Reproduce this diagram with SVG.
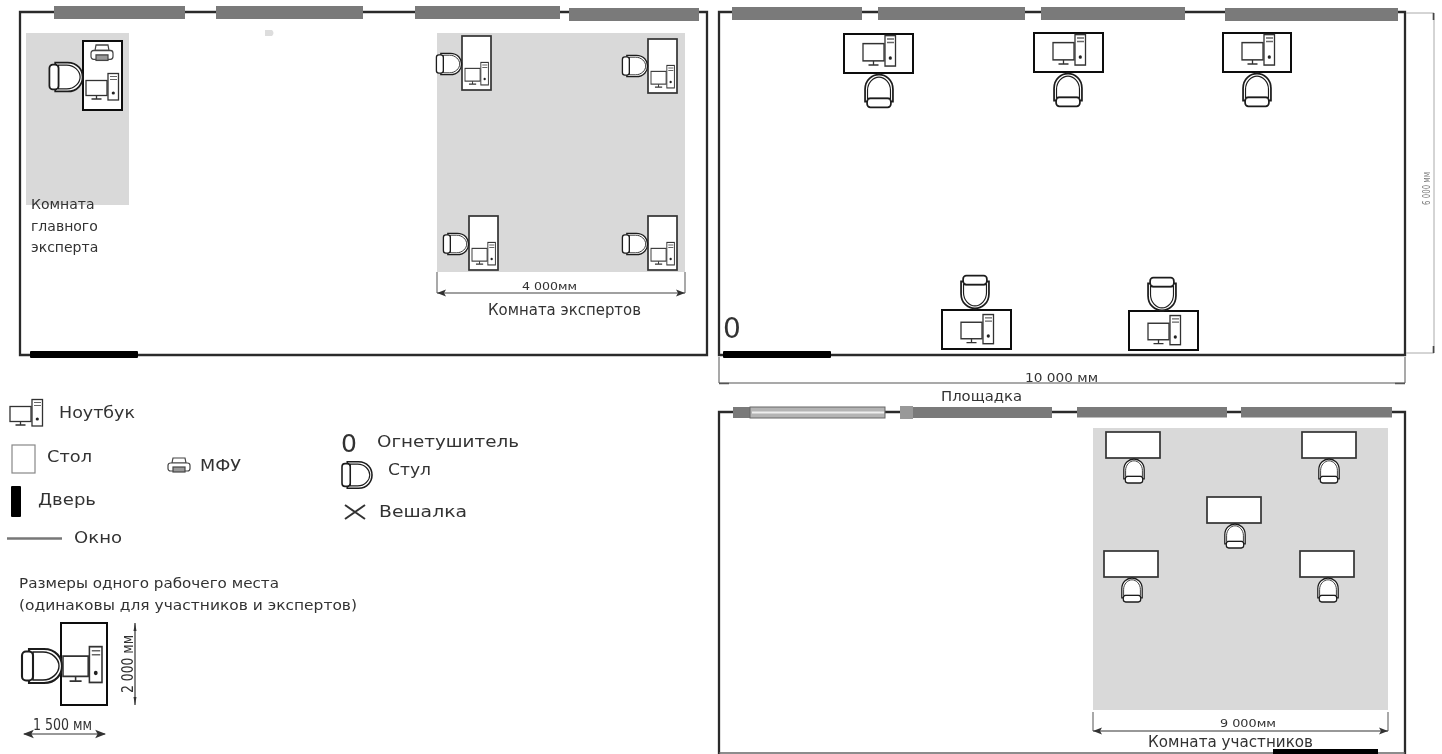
<svg xmlns="http://www.w3.org/2000/svg" xmlns:xlink="http://www.w3.org/1999/xlink" width="1442" height="754" viewBox="0 0 1442 754">
<style>
text{font-family:"DejaVu Sans","Liberation Sans",sans-serif;fill:#333}
.wall{fill:none;stroke:#2c2c2c;stroke-width:2.300}
.win{fill:#7a7a7a}
.door{fill:#050505}
.grey{fill:#d9d9d9}
.tb{fill:#fff;stroke:#111;stroke-width:2}
.tg{fill:#fff;stroke:#333;stroke-width:1.700}
.dim{fill:none;stroke:#555;stroke-width:1}
.head{fill:#333}
.lg{font-size:15}
.cond{font-family:"DejaVu Sans Condensed","Liberation Sans",sans-serif}
</style>
<defs>
<filter id="soft" x="0" y="0" width="1442" height="754" filterUnits="userSpaceOnUse"><feGaussianBlur stdDeviation="0.55"/></filter>
<g id="pc" fill="none">
<rect x="0" y="7.500" width="21" height="15" fill="#fff" stroke="#333" stroke-width="1.300"/>
<path d="M10.500 22.500V25.500M5.500 26H15.500" stroke="#333" stroke-width="1.300"/>
<rect x="22" y="0.500" width="10.500" height="26.500" fill="#fff" stroke="#333" stroke-width="1.300"/>
<path d="M24 3.500H31M24 6.500H31" stroke="#666" stroke-width="1.200"/>
<circle cx="27.300" cy="20" r="1.600" fill="#222"/>
</g>
<g id="chair" fill="#fff" stroke="#1c1c1c" stroke-width="2.100">
<path d="M-13 -17H2C14 -17 20 -8 20 0C20 8 14 17 2 17H-13Z"/>
<path d="M-9 -14H1C10 -14 17 -7 17 0C17 7 10 14 1 14H-9Z" stroke-width="1.400"/>
<rect x="-20" y="-14.500" width="11" height="29" rx="4"/>
</g>
<g id="printer" fill="#fff" stroke="#444" stroke-width="1.200">
<path d="M5 0H17L18 5H4Z"/>
<rect x="0" y="5" width="22" height="8" rx="2.500"/>
<rect x="5" y="9" width="12" height="5" fill="#999"/>
</g>
<path id="ah" class="head" d="M0 0L9 -3.500L7 0L9 3.500Z"/>
</defs>
<rect width="1442" height="754" fill="#fff"/>
<g filter="url(#soft)">

<g id="connectors">
<path class="wall" d="M20 355V12H707V355Z"/>
<path class="wall" d="M719 355V12H1405V355Z"/>
<path class="wall" d="M719 754V412H1405V754"/>
<path d="M719 753H1405" stroke="#666" stroke-width="1.400" fill="none"/>
<g id="dim-experts">
<path class="dim" d="M437 272V293M685 272V293"/>
<path d="M437 293H685" stroke="#444" stroke-width="1.200"/>
<use xlink:href="#ah" transform="translate(437 293)"/><use xlink:href="#ah" transform="translate(685 293) rotate(180)"/>
</g>
<g id="dim-10000">
<path class="dim" d="M719 357V383H1405V357"/>
<path d="M1395 383.500H1405M719 383.500H729" stroke="#555" stroke-width="1.500"/>
</g>
<g id="dim-6000">
<path d="M1406 13H1434V353H1406" fill="none" stroke="#aaa" stroke-width="1"/>
<path d="M1433.500 13V20M1433.500 346V353" stroke="#444" stroke-width="1.600"/>
</g>
<g id="dim-9000">
<path class="dim" d="M1093 712V731M1388 712V731"/>
<path d="M1093 731H1388" stroke="#333" stroke-width="1.200"/>
<use xlink:href="#ah" transform="translate(1093 731)"/><use xlink:href="#ah" transform="translate(1388 731) rotate(180)"/>
</g>
<g id="dim-2000">
<path d="M135 623V705" stroke="#333" stroke-width="1.200"/>
<path d="M135 623L133.500 631H136.500ZM135 705L133.500 697H136.500Z" class="head"/>
</g>
<g id="dim-1500">
<path d="M24 734H105" stroke="#333" stroke-width="1"/>
<use xlink:href="#ah" transform="translate(23 734) scale(1.200)"/><use xlink:href="#ah" transform="translate(106 734) rotate(180) scale(1.200)"/>
</g>
</g>

<g id="windows">
<rect class="win" x="54" y="6" width="131" height="13"/>
<rect class="win" x="216" y="6" width="147" height="13"/>
<rect class="win" x="415" y="6" width="145" height="13"/>
<rect class="win" x="569" y="8" width="130" height="13"/>
<rect class="win" x="732" y="7" width="130" height="13"/>
<rect class="win" x="878" y="7" width="147" height="13"/>
<rect class="win" x="1041" y="7" width="144" height="13"/>
<rect class="win" x="1225" y="8" width="173" height="13"/>
<rect class="win" x="733" y="407" width="18" height="11"/>
<rect x="750" y="407" width="135" height="11" fill="#b4b4b4" stroke="#666" stroke-width="1"/>
<path d="M752 412.500H884" stroke="#eee" stroke-width="2"/>
<rect class="win" x="900" y="407" width="152" height="11"/>
<rect x="900" y="406" width="13" height="13" fill="#999"/>
<rect class="win" x="1077" y="407" width="150" height="10.500"/>
<rect class="win" x="1241" y="407" width="151" height="10.500"/>
</g>
<g id="doors">
<rect class="door" x="30" y="351" width="108" height="7" rx="1"/>
<rect class="door" x="723" y="351" width="108" height="7" rx="1"/>
<rect class="door" x="1273" y="749" width="105" height="5"/>
</g>
<g id="room-chief">
<rect class="grey" x="26" y="33" width="103" height="172"/>
<rect class="tb" x="83" y="41" width="39" height="69"/>
<use xlink:href="#chair" transform="translate(66 77) scale(.83 .85)"/>
<use xlink:href="#printer" transform="translate(91 45) scale(1 1.100)"/>
<use xlink:href="#pc" transform="translate(86 73)"/>
<text x="31" y="209" font-size="14">Комната</text>
<text x="31" y="231" font-size="14">главного</text>
<text x="31" y="252" font-size="14">эксперта</text>
</g>
<g id="room-experts">
<rect class="grey" x="437" y="33" width="248" height="239"/>
<g id="expert-1"><rect class="tg" x="462" y="36" width="29" height="54"/><use xlink:href="#chair" transform="translate(449 64) scale(.63)"/><use xlink:href="#pc" transform="translate(465 62) scale(.72 .85)"/></g>
<g id="expert-2"><rect class="tg" x="648" y="39" width="29" height="54"/><use xlink:href="#chair" transform="translate(635 66) scale(.63)"/><use xlink:href="#pc" transform="translate(651 65) scale(.72 .85)"/></g>
<g id="expert-3"><rect class="tg" x="469" y="216" width="29" height="54"/><use xlink:href="#chair" transform="translate(456 244) scale(.63)"/><use xlink:href="#pc" transform="translate(472 242) scale(.72 .85)"/></g>
<g id="expert-4"><rect class="tg" x="648" y="216" width="29" height="54"/><use xlink:href="#chair" transform="translate(635 244) scale(.63)"/><use xlink:href="#pc" transform="translate(651 242) scale(.72 .85)"/></g>
<text x="522" y="290" font-size="10.500" textLength="55" lengthAdjust="spacingAndGlyphs">4 000мм</text>
<text x="488" y="315" font-size="15" textLength="153" lengthAdjust="spacingAndGlyphs">Комната экспертов</text>
</g>
<g id="mark-d"><path d="M265 30H272Q275 33 272 36H265Z" fill="#ddd"/></g>
<g id="room-site">
<g id="site-1"><rect class="tb" x="844" y="34" width="69" height="39"/><use xlink:href="#chair" transform="translate(879 91) rotate(-90) scale(.82)"/><use xlink:href="#pc" transform="translate(863 35) scale(1 1.150)"/></g>
<g id="site-2"><rect class="tb" x="1034" y="33" width="69" height="39"/><use xlink:href="#chair" transform="translate(1068 90) rotate(-90) scale(.82)"/><use xlink:href="#pc" transform="translate(1053 34) scale(1 1.150)"/></g>
<g id="site-3"><rect class="tb" x="1223" y="33" width="68" height="39"/><use xlink:href="#chair" transform="translate(1257 90) rotate(-90) scale(.82)"/><use xlink:href="#pc" transform="translate(1242 34) scale(1 1.150)"/></g>
<g id="site-4"><rect class="tb" x="942" y="310" width="69" height="39"/><use xlink:href="#chair" transform="translate(975 292) rotate(90) scale(.82)"/><use xlink:href="#pc" transform="translate(961 314) scale(1 1.100)"/></g>
<g id="site-5"><rect class="tb" x="1129" y="311" width="69" height="39"/><use xlink:href="#chair" transform="translate(1162 294) rotate(90) scale(.82)"/><use xlink:href="#pc" transform="translate(1148 315) scale(1 1.100)"/></g>
<text x="723" y="338" font-size="28">0</text>
<text x="1025" y="382" font-size="12.500" textLength="73" lengthAdjust="spacingAndGlyphs">10 000 мм</text>
<text x="941" y="401" font-size="14.500" textLength="81" lengthAdjust="spacingAndGlyphs">Площадка</text>
<text class="cond" transform="translate(1430 205) rotate(-90)" font-size="11" textLength="33" lengthAdjust="spacingAndGlyphs" fill-opacity=".65">6 000 мм</text>
</g>
<g id="room-participants">
<rect class="grey" x="1093" y="428" width="295" height="282"/>
<g id="part-1"><rect class="tg" x="1106" y="432" width="54" height="26"/><use xlink:href="#chair" transform="translate(1134 471) rotate(-90) scale(.6)"/></g>
<g id="part-2"><rect class="tg" x="1302" y="432" width="54" height="26"/><use xlink:href="#chair" transform="translate(1329 471) rotate(-90) scale(.6)"/></g>
<g id="part-3"><rect class="tg" x="1207" y="497" width="54" height="26"/><use xlink:href="#chair" transform="translate(1235 536) rotate(-90) scale(.6)"/></g>
<g id="part-4"><rect class="tg" x="1104" y="551" width="54" height="26"/><use xlink:href="#chair" transform="translate(1132 590) rotate(-90) scale(.6)"/></g>
<g id="part-5"><rect class="tg" x="1300" y="551" width="54" height="26"/><use xlink:href="#chair" transform="translate(1328 590) rotate(-90) scale(.6)"/></g>
<text x="1220" y="727" font-size="10" textLength="56" lengthAdjust="spacingAndGlyphs">9 000мм</text>
<text x="1148" y="747" font-size="15" textLength="165" lengthAdjust="spacingAndGlyphs">Комната участников</text>
</g>
<g id="legend-laptop"><use xlink:href="#pc" transform="translate(10 399)"/><text class="lg" x="59" y="418" textLength="76" lengthAdjust="spacingAndGlyphs">Ноутбук</text></g>
<g id="legend-table"><rect x="12" y="445" width="23" height="28" fill="#fff" stroke="#888" stroke-width="1.200"/><text class="lg" x="47" y="462" textLength="45" lengthAdjust="spacingAndGlyphs">Стол</text></g>
<g id="legend-mfu"><use xlink:href="#printer" transform="translate(168 458)"/><text class="lg" x="200" y="471" textLength="41" lengthAdjust="spacingAndGlyphs">МФУ</text></g>
<g id="legend-door"><rect class="door" x="11" y="486" width="10" height="31" rx="1"/><text class="lg" x="38" y="505" textLength="58" lengthAdjust="spacingAndGlyphs">Дверь</text></g>
<g id="legend-window"><path d="M7 538.500H62" stroke="#777" stroke-width="2.500"/><text class="lg" x="74" y="543" textLength="48" lengthAdjust="spacingAndGlyphs">Окно</text></g>
<g id="legend-ext"><text x="341" y="452" font-size="25">0</text><text class="lg" x="377" y="447" textLength="142" lengthAdjust="spacingAndGlyphs">Огнетушитель</text></g>
<g id="legend-chair"><use xlink:href="#chair" transform="translate(357 475) scale(.75 .78)"/><text class="lg" x="388" y="475" textLength="43" lengthAdjust="spacingAndGlyphs">Стул</text></g>
<g id="legend-hanger"><path d="M345 505L365 519M365 505L345 519" stroke="#333" stroke-width="2" fill="none"/><text class="lg" x="379" y="517" textLength="88" lengthAdjust="spacingAndGlyphs">Вешалка</text></g>
<g id="workplace">
<text x="19" y="588" font-size="14" textLength="260" lengthAdjust="spacingAndGlyphs">Размеры одного рабочего места</text>
<text x="19" y="610" font-size="14" textLength="338" lengthAdjust="spacingAndGlyphs">(одинаковы для участников и экспертов)</text>
<rect class="tb" x="61" y="623" width="46" height="82"/>
<use xlink:href="#chair" transform="translate(42 666)"/>
<use xlink:href="#pc" transform="translate(63 646) scale(1.200 1.350)"/>
<text class="cond" transform="translate(133 693) rotate(-90)" font-size="16" textLength="58" lengthAdjust="spacingAndGlyphs">2 000 мм</text>
<text class="cond" x="33" y="730" font-size="16" textLength="59" lengthAdjust="spacingAndGlyphs">1 500 мм</text>
</g>
</g>
</svg>
